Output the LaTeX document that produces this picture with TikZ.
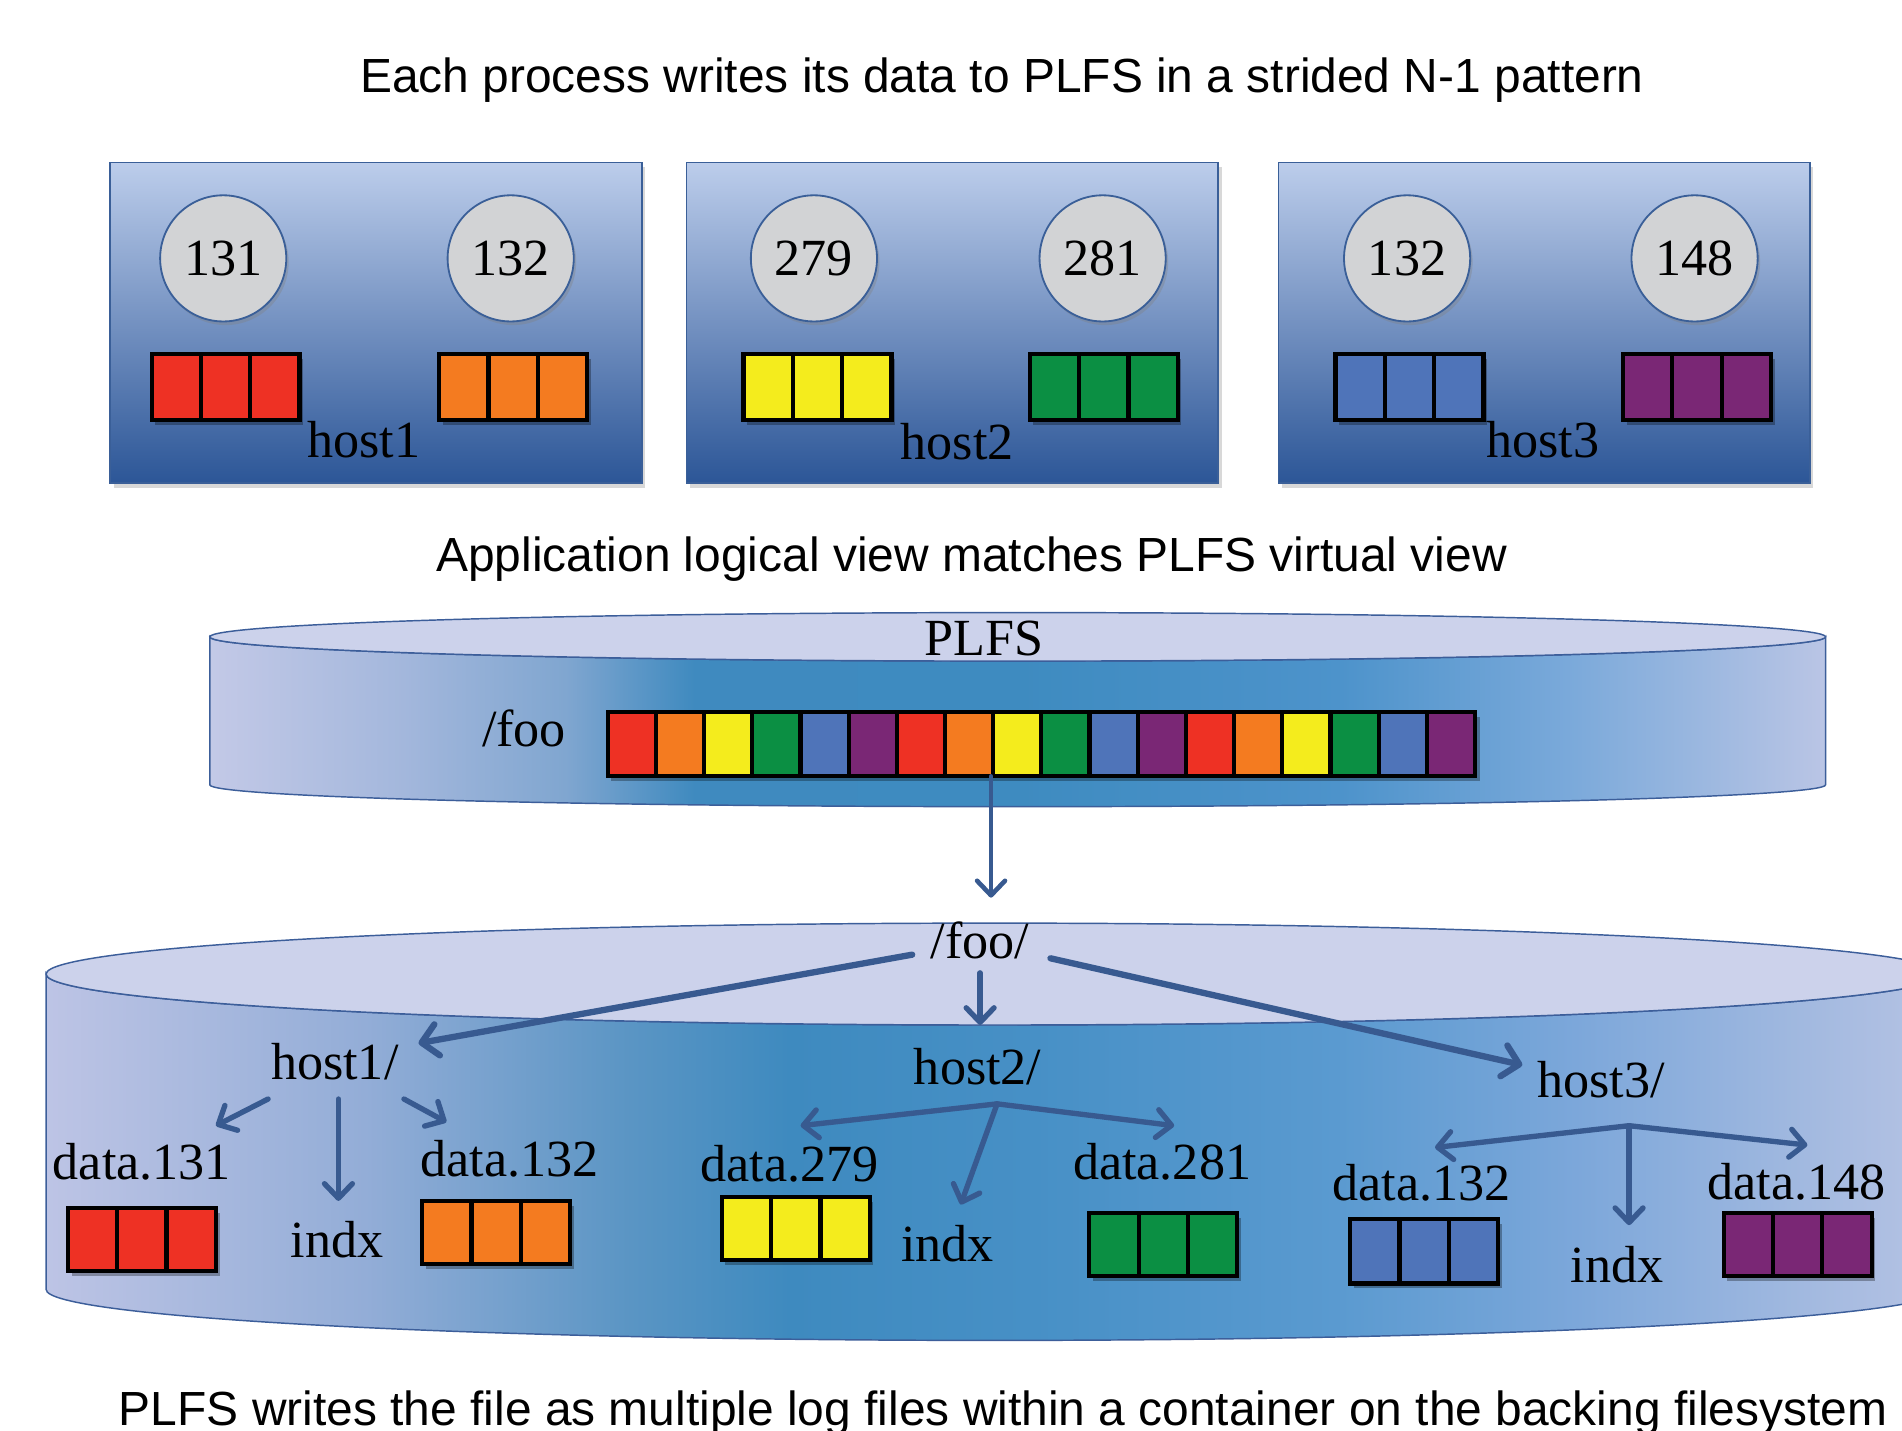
\documentclass[tikz,border=0pt]{standalone}
\usepackage{fontspec}
\setmainfont{Liberation Serif}
\newfontfamily\ttlfont{Liberation Sans}
\newfontfamily\labfont{Liberation Serif}
\usetikzlibrary{shadows,arrows.meta}
\definecolor{cRed}{HTML}{EE3124}
\definecolor{cOrange}{HTML}{F47B20}
\definecolor{cYellow}{HTML}{F4EC1D}
\definecolor{cGreen}{HTML}{0B8F43}
\definecolor{cBlue}{HTML}{4F74B9}
\definecolor{cPurple}{HTML}{7A2775}
\definecolor{boxtop}{HTML}{BCCDEB}
\definecolor{boxbot}{HTML}{2C5697}
\definecolor{boxborder}{HTML}{3A5F98}
\definecolor{circfill}{HTML}{D2D3D5}
\definecolor{arrowc}{HTML}{385A90}
\definecolor{cyltop}{HTML}{CCD2EB}
\definecolor{cylborder}{HTML}{3C5E9A}
\definecolor{uA}{HTML}{C3C9E7}
\definecolor{uB}{HTML}{A3B7DC}
\definecolor{uC}{HTML}{80A6D0}
\definecolor{uD}{HTML}{3F8ABF}
\definecolor{uE}{HTML}{3E8BC0}
\definecolor{uF}{HTML}{4D93CB}
\definecolor{uG}{HTML}{7AA9DA}
\definecolor{uH}{HTML}{BAC5E5}
\definecolor{lA}{HTML}{BDC4E5}
\definecolor{lB}{HTML}{93ADD7}
\definecolor{lC}{HTML}{5A95C4}
\definecolor{lD}{HTML}{3E8ABF}
\definecolor{lE}{HTML}{4790C6}
\definecolor{lF}{HTML}{5A9AD0}
\definecolor{lG}{HTML}{7CA7DA}
\definecolor{lH}{HTML}{A4BAE0}
\definecolor{lI}{HTML}{B6C3E4}
\pgfdeclarehorizontalshading{cylUp}{100bp}{color(0bp)=(uA); color(25bp)=(uA); color(31bp)=(uB); color(36bp)=(uC); color(40bp)=(uD); color(50bp)=(uE); color(60bp)=(uF); color(67bp)=(uG); color(75bp)=(uH); color(100bp)=(uH)}
\pgfdeclarehorizontalshading{cylLow}{100bp}{color(0bp)=(lA); color(25bp)=(lA); color(33.4bp)=(lB); color(40.4bp)=(lC); color(44.6bp)=(lD); color(51bp)=(lE); color(59bp)=(lF); color(65.3bp)=(lG); color(71.7bp)=(lH); color(75bp)=(lI); color(100bp)=(lI)}
\newcommand{\blockthree}[5]{%
  \fill[black,opacity=0.3] ({#1+3},{#2+4}) rectangle ++(#3,#4);
  \foreach \k in {0,1,2}
    \draw[cellline, fill=#5] ({#1+\k*#3/3},#2) rectangle ++({#3/3},#4);
}
\begin{document}
\begin{tikzpicture}[x=1pt,y=-1pt,
  ttl/.style={font=\ttlfont\fontsize{39.5}{44}\selectfont, inner sep=0pt},
  lab/.style={font=\labfont\fontsize{43}{48}\selectfont, inner sep=0pt},
  hostbox/.style={rectangle, minimum width=438pt, minimum height=264pt, top color=boxtop, bottom color=boxbot, draw=boxborder, line width=1.5pt, drop shadow={opacity=0.3, shadow xshift=3pt, shadow yshift=-4pt}},
  proc/.style={circle, minimum size=104pt, inner sep=0pt, fill=circfill, draw=boxborder, line width=1.5pt, drop shadow={opacity=0.35, shadow xshift=2pt, shadow yshift=-3pt}, font=\labfont\fontsize{43}{48}\selectfont},
  cellline/.style={draw=black, line width=3.5pt},
  arrthick/.style={draw=arrowc, line width=5.2pt, line cap=round, -{Straight Barb[length=13pt,width=26pt,round]}},
  arrthin/.style={draw=arrowc, line width=4.4pt, line cap=round, -{Straight Barb[length=12pt,width=23pt,round]}},
  cylline/.style={draw=cylborder, line width=1.2pt}]
\useasboundingbox (0,0) rectangle (1568,1179);
\fill[white] (0,0) rectangle (1568,1179);

% title
\node[ttl, anchor=base] (title) at (826,76) {Each process writes its data to PLFS in a strided N-1 pattern};

% host boxes
\node[hostbox] (host1box) at (310,266) {};
\node[hostbox] (host2box) at (785,266) {};
\node[hostbox] (host3box) at (1273,266) {};

\node[proc] (p131) at (184,213) {131};
\node[proc] (p132) at (421,213) {132};
\node[proc] (p279) at (671,213) {279};
\node[proc] (p281) at (909,213) {281};
\node[proc] (p132b) at (1160,213) {132};
\node[proc] (p148) at (1397,213) {148};

\blockthree{125}{292}{122}{54}{cRed}
\blockthree{362}{292}{122}{54}{cOrange}
\blockthree{613}{292}{122}{54}{cYellow}
\blockthree{849}{292}{122}{54}{cGreen}
\blockthree{1101}{292}{122}{54}{cBlue}
\blockthree{1338}{292}{122}{54}{cPurple}

\node[lab, anchor=base] (h1lbl) at (300,377) {host1};
\node[lab, anchor=base] (h2lbl) at (789,379) {host2};
\node[lab, anchor=base] (h3lbl) at (1272,377) {host3};

% subtitle
\node[ttl, anchor=base] (subtitle) at (801,471) {Application logical view matches PLFS virtual view};

% upper cylinder
\shadedraw[shading=cylUp, cylline] (173,525) -- (173,647) arc[start angle=180,end angle=0,x radius=666,y radius=18] -- (1505,525) arc[start angle=0,end angle=180,x radius=666,y radius=20] -- cycle;
\draw[fill=cyltop, cylline] (839,525) ellipse[x radius=666, y radius=20];
\node[lab, anchor=base] (plfs) at (811,540) {PLFS};
\node[lab, anchor=base] (foo) at (432,615) {/foo};

\fill[black,opacity=0.3] (504,591) rectangle (1220,644);
\foreach \c [count=\i from 0] in {cRed,cOrange,cYellow,cGreen,cBlue,cPurple,cRed,cOrange,cYellow,cGreen,cBlue,cPurple,cRed,cOrange,cYellow,cGreen,cBlue,cPurple}
  \draw[cellline, fill=\c] ({501+\i*39.72},587) rectangle ++(39.72,53);

\coordinate (barout) at (817,640);
\coordinate (fooin) at (817,740);
\draw[arrthin, line width=3.8pt] (barout) -- (fooin);

% lower cylinder
\shadedraw[shading=cylLow, cylline] (38,803) -- (38,1063) arc[start angle=180,end angle=0,x radius=782,y radius=42] -- (1602,803) arc[start angle=0,end angle=180,x radius=782,y radius=42] -- cycle;
\draw[fill=cyltop, cylline] (820,803) ellipse[x radius=782, y radius=42];

\node[lab, anchor=base] (foodir) at (808,790) {/foo/};
\node[lab, anchor=base] (host1) at (276,890) {host1/};
\node[lab, anchor=base] (host2) at (806,894) {host2/};
\node[lab, anchor=base] (host3) at (1320,905) {host3/};

\node[lab, anchor=base] (d131) at (117,972) {data.131};
\node[lab, anchor=base] (ix1) at (278,1037) {indx};
\node[lab, anchor=base] (d132) at (420,970) {data.132};
\node[lab, anchor=base] (d279) at (651,974) {data.279};
\node[lab, anchor=base] (ix2) at (781,1040) {indx};
\node[lab, anchor=base] (d281) at (958,972) {data.281};
\node[lab, anchor=base] (d132b) at (1172,990) {data.132};
\node[lab, anchor=base] (ix3) at (1333,1057) {indx};
\node[lab, anchor=base] (d148) at (1481,989) {data.148};

\blockthree{56}{996}{122}{52}{cRed}
\blockthree{348}{990}{122}{52}{cOrange}
\blockthree{595}{987}{122}{52}{cYellow}
\blockthree{898}{1000}{122}{52}{cGreen}
\blockthree{1113}{1005}{122}{53}{cBlue}
\blockthree{1421}{1000}{122}{52}{cPurple}

% arrows from /foo/
\coordinate (fooL) at (752,787);
\coordinate (fooM) at (808,802);
\coordinate (fooR) at (866,790);
\coordinate (h1in) at (345,860);
\coordinate (h2in) at (808,845);
\coordinate (h3in) at (1255,878);
\draw[arrthick] (fooL) -- (h1in);
\draw[arrthin] (fooM) -- (h2in);
\draw[arrthick] (fooR) -- (h3in);

% host1 arrows
\coordinate (h1a) at (221,906);
\coordinate (h1b) at (279,906);
\coordinate (h1c) at (333,906);
\coordinate (t131) at (178,928);
\coordinate (tix1) at (279,990);
\coordinate (t132) at (368,925);
\draw[arrthin] (h1a) -- (t131);
\draw[arrthin] (h1b) -- (tix1);
\draw[arrthin] (h1c) -- (t132);

% host2 arrows
\coordinate (h2br) at (822,910);
\coordinate (t279) at (660,928);
\coordinate (t281) at (968,928);
\coordinate (tix2) at (792,993);
\draw[arrthin] (h2br) -- (t279);
\draw[arrthin] (h2br) -- (t281);
\draw[arrthin] (h2br) -- (tix2);

% host3 arrows
\coordinate (h3br) at (1343,928);
\coordinate (t132b) at (1183,946);
\coordinate (t148) at (1490,944);
\coordinate (tix3) at (1343,1010);
\draw[arrthin] (h3br) -- (t132b);
\draw[arrthin] (h3br) -- (t148);
\draw[arrthin] (h3br) -- (tix3);

% bottom caption
\node[ttl, anchor=base] (caption) at (827,1175) {PLFS writes the file as multiple log files within a container on the backing filesystem};
\end{tikzpicture}
\end{document}
